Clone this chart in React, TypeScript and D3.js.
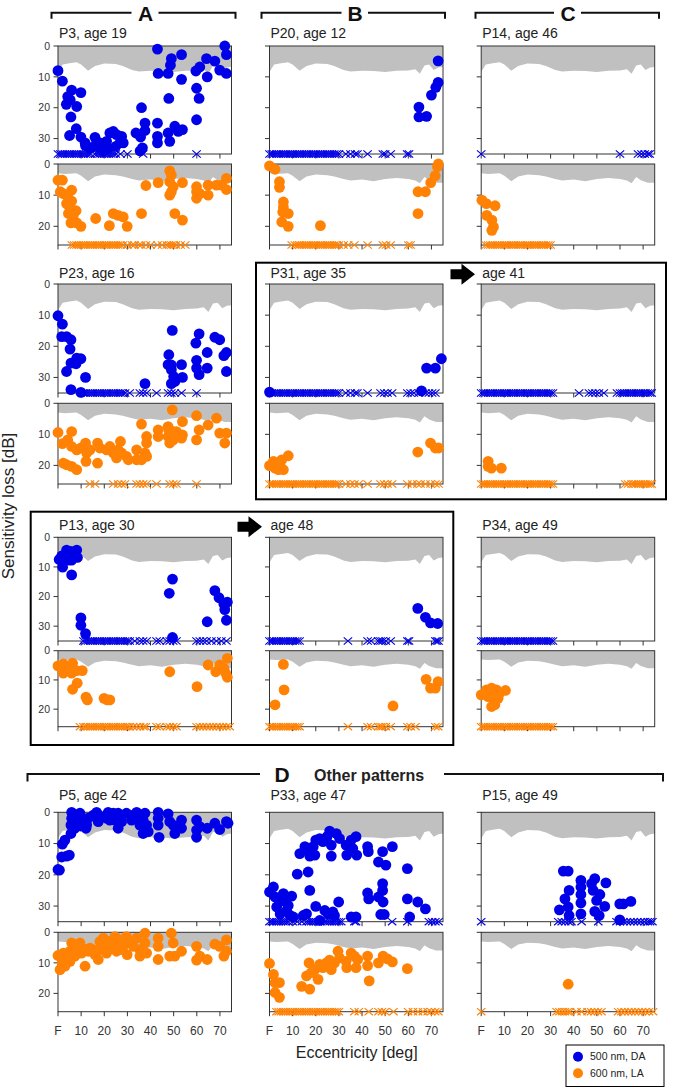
import React from "react";
import * as d3 from "d3";

// ---------- axis / band data ----------
const ECC_TICKS = [0, 10, 20, 30, 40, 50, 60, 70];
const ECC_TICK_LABELS = ["F", "10", "20", "30", "40", "50", "60", "70"];
const DA_TICKS = [0, 10, 20, 30];
const LA_TICKS = [0, 10, 20];

const BAND_ECC_DA = [0, 2, 5, 8, 10, 13, 16, 20, 25, 28, 32, 35, 40, 45, 50, 55, 60, 63, 65, 67, 69, 71, 73, 75];
const BAND_DA = [8.4, 6.0, 5.6, 5.3, 6.0, 8.0, 6.5, 5.7, 5.8, 6.5, 7.8, 8.3, 8.0, 8.1, 8.4, 8.0, 7.9, 7.5, 9.0, 6.3, 6.0, 7.8, 7.0, 6.8];
const BAND_ECC_LA = [0, 3, 8, 10, 13, 16, 20, 25, 28, 32, 35, 40, 45, 50, 55, 60, 63, 65, 67, 69, 72, 75];
const BAND_LA = [3.0, 3.2, 3.0, 3.8, 5.5, 4.0, 3.4, 3.6, 4.0, 4.8, 5.3, 5.0, 5.5, 4.8, 4.5, 4.8, 5.3, 6.2, 4.2, 5.2, 6.0, 6.0];

// ---------- patient data: [eccentricity, sensitivity loss] ; NR = not reached (crosses) ----------
const P3_DA = [[0,8],[1.9,11.4],[5.9,14.3],[4.2,16.4],[5.3,17.5],[3.6,18.9],[8.1,19.6],[9.9,15.1],[5.6,23],[5,29],[7.9,26.8],[9.9,29.5],[11.9,32.3],[13.8,33],[16,29.6],[16.7,32.5],[18.1,31.4],[21,30.9],[22.4,28.2],[23.9,27.7],[25.3,28.7],[26.8,31.4],[27.5,29.3],[19.6,34],[25,32.5],[11.7,31.4],[18.1,33],[21.7,33],[28.2,31.4],[15.7,32.5],[33.7,28.2],[35.7,29.5],[37.6,25],[36.1,20],[37.6,27.4],[36.5,33],[35.5,34],[43,1],[43.3,8.9],[43,25],[43,29.3],[43,31.4],[47.6,8.9],[49,4.1],[48.6,6.2],[47.9,17],[47.6,28.2],[48.3,30.9],[50.5,26],[52,27.7],[53.4,2.8],[53.4,10.8],[53.8,27.1],[59.6,8.1],[59.9,13.7],[61,17],[59.9,23.9],[61.3,6.8],[64.2,4.1],[64.5,10],[67.8,4.9],[69.9,7.8],[72.1,0],[72.8,2.8],[72.8,8.9]];
const P3_DA_NR = [0,1,2,3,4,5,6,7,8,9,10,11,12,13,14,16,17,18,19,20,21,22,23,24,25,27,30,36.8,59.9];
const P3_LA = [[0,5.2],[1.9,5.2],[1,8.9],[2.3,9.5],[5.9,8.4],[4.5,11],[5.9,11.9],[3.7,12.7],[5.2,14.3],[7.8,15],[4.5,15.9],[6.6,16.5],[5.6,18.9],[8.1,18.9],[9.9,20],[16.3,17.5],[22.2,19.8],[23.9,15.9],[26,16.5],[28.2,17],[29.9,20],[36.1,15.9],[38,6.9],[43.3,6],[48.3,2.2],[49,3.5],[48.3,5.7],[49.8,7.3],[53.8,6],[48.3,10],[49,8.9],[50.5,15.9],[53.8,18],[59.9,7.3],[59.9,11],[61.3,9.5],[64.9,6.8],[64.9,10],[68.5,6.8],[70.7,6.8],[72.8,4.6],[72.8,8.2],[59.9,8.9]];
const P3_LA_NR = [6,7,8,9,10,11,12,13,14,15,16,17,18,19,20,21,22,23,24,25,26,27,28,30,32,33,35,36,38,40,43,45,47,48,49,50,51,53,55];

const P20_DA = [[72.9,4.8],[72.9,11.8],[71.9,13.4],[70,15.9],[64.6,19.8],[64.6,23],[67.9,22.8]];
const P20_DA_NR = [0,1,2,3,4,5,6,7,8,9,10,11,12,13,14,15,16,17,18,19,20,21,22,23,24,25,26,27,28,29,30,33,35,37,38,42.4,49,50,52.4,59.5,60.3];
const P20_LA = [[0,0.6],[2.4,1.7],[4.3,5.7],[4.3,7.5],[6,12.2],[6,13.8],[5.7,15.4],[8.1,15.9],[5.3,18.6],[8.1,20],[22,19.8],[64.2,8.9],[67.4,8.9],[64.2,15.9],[69.7,6],[71.6,3.8],[72.6,0.9],[73,0]];
const P20_LA_NR = [9.6,11,12,13,14,15,16,17,18,19,20,21,22,23,24,25,26,27,28,29,30,32,34,36.7,42.4,49,50.4,52.4,60,61];

const P14_DA = [];
const P14_DA_NR = [0,60,67.8,69.3,70.7,72.1,72.8];
const P14_LA = [[0.3,11.6],[2.2,12.7],[6,13.4],[2.4,16.5],[4.6,18],[5.3,20.2],[4.6,21.3]];
const P14_LA_NR = [2,3,4,5,6,7,8,9,10,11,12,13,14,15,16,17,18,19,20,21,22,23,24,25,26,27,28,29,30];

const P23_DA = [[0,10.2],[1.9,12.9],[1.6,16.9],[3.7,16.9],[5.6,17.9],[5.2,20.9],[3.7,28.1],[5.6,25.4],[7.8,25.6],[9.9,24],[8.1,23.8],[5.6,33.9],[9.9,34.8],[11.9,30],[37.6,32],[47.9,22.7],[49.4,14.9],[47.6,25.9],[49,27.5],[50,29.7],[49,32],[50.5,31.3],[53.4,25.9],[53.8,30],[59.6,19],[61,16],[59.9,24.5],[59.9,27],[61,29.1],[64.5,22],[64.5,27],[67.8,17.1],[69.9,17.9],[71.7,23],[72.8,22],[72.8,28.1],[49,26]];
const P23_DA_NR = [11,12,13,14,15,16,17,18,19,20,21,22,23,24,25,26,27,28,29,31,35.4,36.8,38.3,42.6,47.6,49,50.5,53.4,59.9];
const P23_LA = [[0,9.4],[1.9,13],[5.9,9.1],[4.2,11.8],[5.9,13.9],[8.1,15],[9.9,14.4],[11.9,12.8],[12.4,16],[13.8,15],[17.1,12.8],[18.1,14.4],[21,15],[22.4,13.9],[23.9,16],[26,15],[27,12.3],[27.5,16],[29.6,17.1],[30.4,18.2],[34,15],[36.1,6.7],[38.3,10.7],[38.3,12.8],[37.6,16],[38.3,17.1],[36.1,18.2],[34,18.2],[2.3,19.3],[3.7,19.8],[5.9,20.3],[8.1,21.4],[12.1,18.7],[17.1,19.3],[25.3,17.6],[43.3,8.6],[43.3,10.7],[47.9,8.6],[49.4,2.1],[47.6,10.7],[48.3,12.8],[49.8,11.8],[51.2,9.1],[53.8,5.9],[53.8,10.2],[53.4,11.2],[59.9,4],[61,8.6],[59.9,11.8],[64.9,7],[68.5,4.8],[69.9,9.6],[72.1,12.8],[72.8,9.6],[49.8,9.1],[47.6,7.5]];
const P23_LA_NR = [13.8,16,23.9,26,27.5,28.9,34,35.4,36.8,38.3,42.6,48.3,49.8,51.2,59.9];

const P31_DA = [[0,34.7],[65.7,34.3],[67.9,27],[71.7,27],[74.3,24]];
const P31_DA_NR = [1,2,3,4,5,6,7,8,9,10,11,12,13,14,15,16,17,18,19,20,21,22,23,24,25,26,27,28,29,30,33,35,37,38,42.4,48,49.6,51,53,59.6,61,62.4,64.6,67.4,68.9,70.3,71.7];
const P31_LA = [[0,20.1],[1.7,18.7],[3.1,19.3],[4.6,20.3],[6,21.4],[5.3,18.2],[8.1,16.9],[3.9,21.4],[2.4,20.9],[64.1,15.7],[69.6,12.8],[71.7,14.4],[73.1,14.4]];
const P31_LA_NR = [0,1,2,3,4,5,6,7,8,9,10,11,12,13,14,15,16,17,18,19,20,21,22,23,24,25,26,27,28,29,30,33,35,36.7,38.6,42.4,48,49.6,51,53,59.6,61.7,63.9,65.3,67.4,69.6,71.7,73.1];

const A41_DA = [];
const A41_DA_NR = [0,1,2,3,4,5,6,7,8,9,10,11,12,13,14,15,16,17,18,19,20,21,22,23,24,25,26,27,28,29,30,31,42.3,46.6,48,49.4,50.9,53,58.7,60,61,62,63,64,65,66,67,68,69,70,71,72,73,73.7];
const A41_LA = [[3,18.7],[4.4,20.9],[8.7,20.9],[3,20.3]];
const A41_LA_NR = [0,1,2,3,4,5,6,7,8,9,10,11,12,13,14,15,16,17,18,19,20,21,22,23,24,25,26,27,28,29,30,31,62.3,63.5,65,66,67,68,69,70,71,72,73,73.7];

const P13_DA = [[1.6,6.3],[2,10.1],[3.7,4.3],[5.6,4.8],[5.9,7.7],[5.9,12.7],[8.1,4.3],[8.4,6.8],[6.6,6.3],[4.5,7.7],[0.5,7.5],[9.9,27.2],[9.9,29.7],[11.9,32.5],[48.1,18.9],[49.5,14.1],[49.5,33.8],[64.5,28.5],[67.8,18],[69.6,20.4],[71.7,22.5],[72.1,24.4],[72.8,28],[73.2,21.9]];
const P13_DA_NR = [11,12,13,14,15,16,17,18,19,20,21,22,23,24,25,26,27,28,29,30,31,33.2,35.4,36.8,38.3,42.6,44,47,48.3,49.8,51.2,59.9,61.3,62.7,64.2,66.3,68.5,70.6,72.8];
const P13_LA = [[0,5.2],[2.3,4.5],[2.3,7.7],[4.5,5.5],[6.3,4.3],[5.9,7.7],[8.1,6.8],[10.5,6.8],[8.3,11.1],[6.3,13.2],[12.1,15.9],[12.7,16.8],[19.9,16.3],[21.3,16.8],[22.4,16.8],[48.3,7.2],[60.1,12.3],[64.9,4.9],[68.2,7.2],[69.9,4.9],[71.7,6],[73.2,2.6],[73.2,9.1],[72.5,7.7]];
const P13_LA_NR = [9.5,11,12,13,14,15,16,17,18,19,20,21,22,23,24,25,26,27,28,29,30,31,32.5,34,35.5,37,38,42.6,44,47,48.3,49.8,51.2,59.9,61.3,62.7,64.2,65.6,67,68.5,69.9,71.3,72.8,74.2];

const A48_DA = [[64.1,24],[67.4,27],[69.6,28.9],[72.7,29.1]];
const A48_DA_NR = [0,1,2,3,4,5,6,7,8,9,10,11,12,13,33.9,42.4,43.9,47,48,48.9,50.3,52.4,59.6,60.3,71.7,72.4,73.1];
const A48_LA = [[6,4.7],[6.3,13.4],[2.4,18.5],[53.4,18.9],[67.7,9.8],[69.6,12.8],[71.7,12.8],[72.9,10.6]];
const A48_LA_NR = [0,1,2,3,4,5,6,7,8,9,10,11,12,13,33.9,42.4,43.9,47,48,48.9,50.3,52.4,59.6,61,63.1,71.7,72.9];

const P34_DA = [];
const P34_DA_NR = [0,1,2,3,4,5,6,7,8,9,10,11,12,13,14,15,16,17,18,19,20,21,22,23,24,25,26,27,28,29,30,31];
const P34_LA = [[0,15.1],[2.3,13.4],[4.5,12.8],[6.6,13.4],[8,14.5],[10.5,13.6],[3,15.7],[5.2,16.3],[7.3,16.3],[4.5,19.1],[5.9,18.5],[3.7,14.5],[5.9,14.5]];
const P34_LA_NR = [0,1,2,3,4,5,6,7,8,9,10,11,12,13,14,15,16,17,18,19,20,21,22,23,24,25,26,27,28,29,30,31];

const P5_DA = [[0,18.3],[0.6,18.5],[1.9,10.2],[1.6,14.3],[3.7,14],[4.9,13.7],[3,8.9],[5.6,6.8],[5.6,4.1],[5.9,0],[7.3,5.1],[9.5,0.3],[9.5,2.3],[9.9,4.4],[12.1,5.1],[13.1,1.9],[15.3,0.9],[16.7,0],[17.4,3],[19.6,1.4],[21.7,0],[22.4,2.5],[23.9,0.3],[26,0.3],[26,5.1],[27.5,3],[29.6,0.3],[31.8,2.5],[34,0],[35.4,4.1],[36.8,2.5],[37.6,0.3],[36.8,6.8],[39,6.2],[38.3,4.1],[43.3,0],[43.3,1.9],[43.3,4.1],[43.7,8],[47.6,0.5],[48.3,3],[49.8,4.1],[50.5,6.8],[53.4,2.5],[53.4,5.1],[59.9,2.5],[59.9,5.7],[59.9,8],[61.3,4.6],[64.5,5.1],[67.8,3.5],[69.9,5.5],[72.8,3],[73.5,3.5],[12.4,4.1],[18.1,1.4],[24.6,2.5],[32.5,0.9],[34.7,1.9],[7.3,2.5],[5.9,1.9],[8.1,0.9],[21,1.9],[26.8,1.4]];
const P5_DA_NR = [];
const P5_LA = [[0,7.6],[0.9,12.2],[1.9,10],[2.3,6.8],[3.7,8.4],[5.2,6.2],[5.9,3.5],[7.3,7.8],[8.1,5.7],[9.5,3.5],[10.2,6.8],[11.7,11.1],[13.1,6.2],[13.8,5.2],[16,7.3],[17.4,8.9],[18.1,5.7],[19.6,1.9],[20.3,4.6],[21,6.8],[22.4,3],[23.9,4.6],[24.6,1.4],[25.3,6.2],[26.8,2.5],[28.2,4.6],[29.6,1.4],[29.9,7.3],[31.8,3],[34,1.9],[35.4,5.7],[35.4,7.8],[37.6,0.3],[37.6,3.5],[38.3,6.8],[43.3,1.9],[43.3,4.6],[43.3,8.9],[48.3,7.8],[49,0.3],[49.8,3.5],[50.5,7.8],[53.4,6.2],[59.9,4.6],[59.9,9.1],[61.3,7.8],[64.5,8.9],[67.8,3.9],[69.9,4.6],[71.7,7.8],[72.8,2.5],[72.8,6.2],[11.7,5.7],[15.3,5.7],[18.1,3],[21.7,5.7],[26.8,5.7],[32.5,4.6],[5.2,9.5],[3,11.1]];
const P5_LA_NR = [];

const P33_DA = [[0,25.5],[1.7,23.9],[2.4,27.1],[3.1,30.3],[4.3,28.7],[4.6,32.5],[6,26],[6.7,28.2],[8.1,29.8],[9.6,26.8],[7.4,31.4],[8.9,33],[10.3,33.5],[12,19.8],[13.1,13.2],[14.6,33],[16,32.5],[16.7,19.1],[17.4,25],[16.7,12.1],[15.3,11],[17.4,14],[18.9,11],[19.6,13.7],[20,8.9],[21.7,8.4],[21.7,34.6],[20,30.1],[23.1,9.4],[23.9,31.4],[24.9,7.8],[26,6],[26.7,14],[26.7,10.5],[25.3,32.5],[28.1,33],[28.9,6.8],[30.3,8.4],[29.9,28.7],[27.4,31.9],[33.1,10.5],[33.4,13.7],[35.3,8.9],[36,11.6],[37.4,7.8],[37.7,13.7],[35.3,33.5],[37.4,33.5],[42.4,11],[42.7,12.6],[42.4,25.8],[42.9,27.7],[47.1,15.9],[48.9,12.6],[50.3,16.9],[53.1,11],[47.1,27.1],[48.9,22.8],[48.9,25],[49.1,28.7],[48.1,32.7],[49.6,32.7],[59.6,18],[59.6,27.7],[60.6,33.5],[64.1,28.7],[67.4,30.9]];
const P33_DA_NR = [0,1,2,3,4,5,6,7,8,10,12,14,16,17,18,19,20,21,22,24,25,26,27,28,29,30,31,36.7,37.4,53,59.6,68.9,70.3,71.7,73.1];
const P33_LA = [[0,10.2],[1.7,13.8],[2.4,16.5],[4.3,16.5],[2.4,19.7],[4.3,21.3],[13.9,17.7],[16,14.3],[17.1,10],[17.4,18.6],[19.6,12.2],[21,15.4],[21.7,10.5],[23.1,11.6],[24.6,10],[26,9.1],[26.7,12.2],[28.1,10],[29.6,6.2],[30.3,8.4],[33.1,9.5],[33.4,11.6],[35.3,6.8],[36.7,7.8],[37.4,11.6],[38.1,8.9],[42.4,7.8],[42.4,10.9],[43.1,15.9],[47.1,10],[49.1,7.8],[51,8.7],[53.1,9.7],[59.6,11.9],[18.1,13.2]];
const P33_LA_NR = [3,4,5,6,7,8,9,10,11,12,13,14,15,16,17,18,19,20,21,22,23,24,25,26,27,28,29,30,36.7,38.6,42.9,47.1,48.6,50,53.6,59.9,62,64.2,66.3,68.4,69.9,71.6,73];

const P15_DA = [[35.5,18.8],[37.6,18.8],[38,25],[36.2,27.7],[33.8,31.2],[37.6,30.3],[38,33],[43.1,21.8],[43.1,23.9],[43.1,26.3],[43.1,29],[43.1,32.5],[47.7,22.8],[49.1,21.2],[48.4,25],[51.3,26.3],[49.9,28.2],[53.9,22.6],[53.4,30.1],[49.1,31.7],[51,33],[59.9,29.3],[61.4,29.3],[64.7,28.5],[59.9,34.4]];
const P15_DA_NR = [0,33.3,34.8,36.3,37.8,39,43.4,50.6,58.5,60,61.5,63,64.5,66,67.5,69,70.5,72,73,74];
const P15_LA = [[37.6,17]];
const P15_LA_NR = [0,32.6,33.8,35,36.2,37.4,38.4,41.2,43.4,46,47.5,49,50.5,52,59.2,60.6,62,63.6,65,66.5,68,69.5,71,72.5,74.3];

// ---------- layout ----------
const COL_X = [58, 269.5, 481.2];
const PANEL_W = 173.5;
const ROWS = [
  { bt: 46, bb: 154, ot: 164, ob: 245, title: 38 },
  { bt: 284, bb: 393, ot: 403.3, ob: 484, title: 278 },
  { bt: 537.3, bb: 641, ot: 650.7, ob: 726.7, title: 530 },
  { bt: 812.3, bb: 921.7, ot: 932.3, ob: 1011.7, title: 800 },
];

const PANELS = [
  { t: "P3, age 19", r: 0, c: 0, da: P3_DA, daNR: P3_DA_NR, la: P3_LA, laNR: P3_LA_NR },
  { t: "P20, age 12", r: 0, c: 1, da: P20_DA, daNR: P20_DA_NR, la: P20_LA, laNR: P20_LA_NR },
  { t: "P14, age 46", r: 0, c: 2, da: P14_DA, daNR: P14_DA_NR, la: P14_LA, laNR: P14_LA_NR },
  { t: "P23, age 16", r: 1, c: 0, da: P23_DA, daNR: P23_DA_NR, la: P23_LA, laNR: P23_LA_NR },
  { t: "P31, age 35", r: 1, c: 1, da: P31_DA, daNR: P31_DA_NR, la: P31_LA, laNR: P31_LA_NR },
  { t: "age 41", r: 1, c: 2, da: A41_DA, daNR: A41_DA_NR, la: A41_LA, laNR: A41_LA_NR },
  { t: "P13, age 30", r: 2, c: 0, da: P13_DA, daNR: P13_DA_NR, la: P13_LA, laNR: P13_LA_NR },
  { t: "age 48", r: 2, c: 1, da: A48_DA, daNR: A48_DA_NR, la: A48_LA, laNR: A48_LA_NR },
  { t: "P34, age 49", r: 2, c: 2, da: P34_DA, daNR: P34_DA_NR, la: P34_LA, laNR: P34_LA_NR },
  { t: "P5, age 42", r: 3, c: 0, da: P5_DA, daNR: P5_DA_NR, la: P5_LA, laNR: P5_LA_NR },
  { t: "P33, age 47", r: 3, c: 1, da: P33_DA, daNR: P33_DA_NR, la: P33_LA, laNR: P33_LA_NR },
  { t: "P15, age 49", r: 3, c: 2, da: P15_DA, daNR: P15_DA_NR, la: P15_LA, laNR: P15_LA_NR },
];

const BLUE = "#0000e8";
const ORANGE = "#ff8205";
const GREY = "#c0c0c0";
const AX = "#333";
const FONT = "Arial, 'Liberation Sans', sans-serif";
const R_PT = 5.4;

function Panel({ x0, top, bottom, dmax, pts, nr, bandX, bandY, color, yTicks, showY, showX }) {
  const xs = d3.scaleLinear().domain([0, 75]).range([x0, x0 + PANEL_W]);
  const ys = d3.scaleLinear().domain([0, dmax]).range([top, bottom]);
  const band = bandX.map((e, i) => [e, bandY[i]]);
  const area = d3.area().x((d) => xs(d[0])).y0(ys(0)).y1((d) => ys(d[1]));
  return (
    <g>
      <path d={area(band)} fill={GREY} />
      {yTicks.map((t) => (
        <g key={"y" + t}>
          <line x1={xs(0) - 4.5} x2={xs(0)} y1={ys(t)} y2={ys(t)} stroke={AX} strokeWidth={1} />
          {showY && (
            <text x={xs(0) - 8} y={ys(t)} dy="0.36em" textAnchor="end" fontSize={10.5} fill="#333" fontFamily={FONT}>
              {t}
            </text>
          )}
        </g>
      ))}
      {ECC_TICKS.map((t, i) => (
        <g key={"x" + t}>
          <line x1={xs(t)} x2={xs(t)} y1={bottom} y2={bottom + 4.5} stroke={AX} strokeWidth={1} />
          {showX && (
            <text x={xs(t)} y={bottom + 23.5} textAnchor="middle" fontSize={12} fill="#333" fontFamily={FONT}>
              {ECC_TICK_LABELS[i]}
            </text>
          )}
        </g>
      ))}
      <rect x={x0} y={top} width={PANEL_W} height={bottom - top} fill="none" stroke={AX} strokeWidth={1} />
      {nr.map((e, i) => (
        <path
          key={"n" + i}
          transform={`translate(${xs(e)},${ys(dmax)})`}
          d="M-4.2,-3.6L4.2,3.6M-4.2,3.6L4.2,-3.6"
          stroke={color}
          strokeWidth={1.2}
          fill="none"
        />
      ))}
      {pts.map((p, i) => (
        <circle key={"p" + i} cx={xs(p[0])} cy={ys(p[1])} r={R_PT} fill={color} />
      ))}
    </g>
  );
}

function Bracket({ x1, x2, y, gap1, gap2, tick }) {
  return (
    <g stroke="#111" strokeWidth={2} fill="none">
      <path d={`M${x1},${y + tick}V${y}H${gap1}`} />
      <path d={`M${gap2},${y}H${x2}V${y + tick}`} />
    </g>
  );
}

function Arrow({ x, y }) {
  return <path d={`M${x},${y - 5}H${x + 11}V${y - 10.5}L${x + 24.5},${y}L${x + 11},${y + 10.5}V${y + 5}H${x}Z`} fill="#000" />;
}

export default function App() {
  return (
    <svg width={675} height={1088} style={{ position: "absolute", left: 0, top: 0, background: "#fff" }} fontFamily={FONT}>
      {/* group brackets */}
      <Bracket x1={51.5} x2={235.5} y={12.7} gap1={131.5} gap2={158.5} tick={6} />
      <text x={145.5} y={20.5} textAnchor="middle" fontSize={21} fontWeight="bold" fill="#111">A</text>
      <Bracket x1={261.5} x2={445} y={12.7} gap1={341.5} gap2={368} tick={6} />
      <text x={355} y={20.5} textAnchor="middle" fontSize={21} fontWeight="bold" fill="#111">B</text>
      <Bracket x1={475.5} x2={659} y={12.7} gap1={554} gap2={581} tick={6} />
      <text x={568} y={20.5} textAnchor="middle" fontSize={21} fontWeight="bold" fill="#111">C</text>

      <Bracket x1={27.5} x2={663} y={774} gap1={260} gap2={444} tick={7.5} />
      <text x={282} y={781.5} textAnchor="middle" fontSize={21} fontWeight="bold" fill="#111">D</text>
      <text x={314} y={781} fontSize={16} fontWeight="bold" fill="#222">Other patterns</text>

      {/* boxes around longitudinal pairs */}
      <rect x={256} y={262.7} width={410} height={236.6} fill="none" stroke="#000" strokeWidth={2} />
      <rect x={30.7} y={511.7} width={422.6} height={233.3} fill="none" stroke="#000" strokeWidth={2} />
      <Arrow x={450.5} y={274.3} />
      <Arrow x={237.5} y={526.7} />

      {PANELS.map((p, i) => {
        const R = ROWS[p.r];
        const x0 = COL_X[p.c];
        return (
          <g key={i}>
            <text x={x0 + 1} y={R.title} fontSize={14} fill="#222">{p.t}</text>
            <Panel x0={x0} top={R.bt} bottom={R.bb} dmax={35} pts={p.da} nr={p.daNR} bandX={BAND_ECC_DA} bandY={BAND_DA}
              color={BLUE} yTicks={DA_TICKS} showY={p.c === 0} showX={false} />
            <Panel x0={x0} top={R.ot} bottom={R.ob} dmax={26} pts={p.la} nr={p.laNR} bandX={BAND_ECC_LA} bandY={BAND_LA}
              color={ORANGE} yTicks={LA_TICKS} showY={p.c === 0} showX={p.r === 3} />
          </g>
        );
      })}

      {/* axis titles */}
      <text transform="translate(14,506) rotate(-90)" textAnchor="middle" fontSize={17} fill="#222">Sensitivity loss [dB]</text>
      <text x={356.7} y={1058} textAnchor="middle" fontSize={16} fill="#222">Eccentricity [deg]</text>

      {/* legend */}
      <rect x={566} y={1045} width={98} height={41.5} fill="#fff" stroke="#000" strokeWidth={1} />
      <circle cx={578} cy={1056.7} r={5} fill={BLUE} />
      <text x={590} y={1060.3} fontSize={10.5} fill="#222">500 nm, DA</text>
      <circle cx={578} cy={1073.3} r={5} fill={ORANGE} />
      <text x={590} y={1076.9} fontSize={10.5} fill="#222">600 nm, LA</text>
    </svg>
  );
}
